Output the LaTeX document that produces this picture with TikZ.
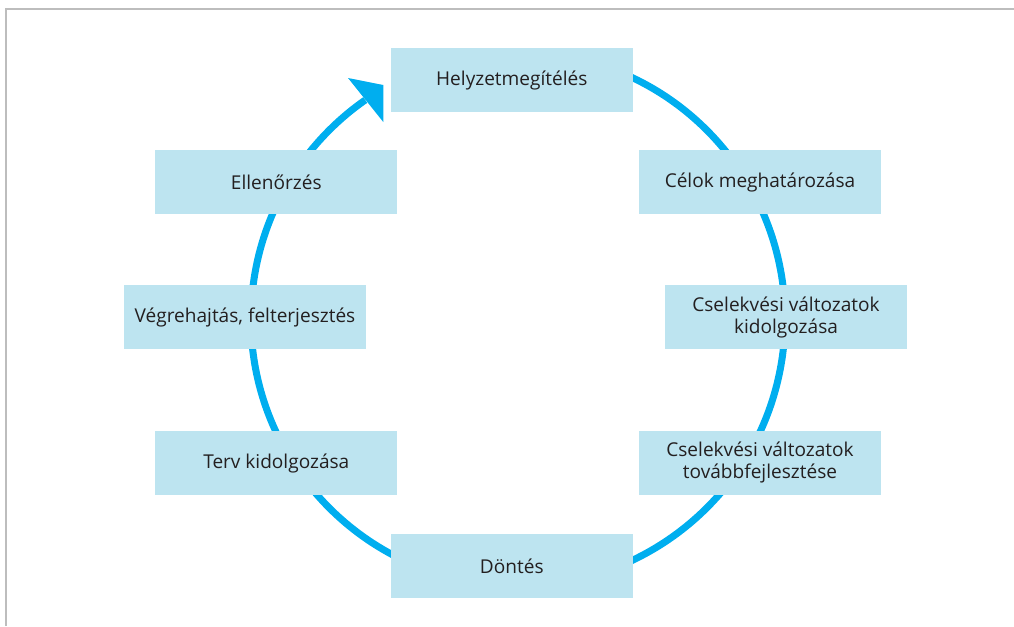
\documentclass[tikz,border=0pt]{standalone}
\usepackage{fontspec}
\setmainfont{Open Sans}
\usetikzlibrary{calc}
\definecolor{boxfill}{HTML}{BDE4F0}
\definecolor{cyclecyan}{HTML}{00AEEF}
\definecolor{txt}{HTML}{231F20}
\definecolor{framegray}{HTML}{BDBDBD}
\begin{document}
\begin{tikzpicture}[x=0.75pt,y=-0.75pt,
  stepbox/.style={rectangle, fill=boxfill, minimum width=181.5pt, minimum height=48pt,
    inner sep=0pt, align=center, text=txt, font=\fontsize{14.3}{16.5}\selectfont},
  cycleline/.style={draw=cyclecyan, line width=5.25pt}]
\useasboundingbox (0,0) rectangle (1014,626);
% page frame (top and left edges)
\coordinate (fbl) at (6,626);
\coordinate (ftl) at (6,9);
\coordinate (ftr) at (1014,9);
\draw[framegray, line width=1pt] (fbl) -- (ftl) -- (ftr);

% the cycle: a circle running clockwise, ending in an arrow head
\coordinate (o) at (518,319);
\draw[cycleline] ([shift={(-80:267)}]o) arc[start angle=-80, end angle=235.1, radius=267];
\coordinate (wingA) at (348,78);
\coordinate (wingB) at (383.3,85);
\coordinate (wingC) at (383.3,122);
\fill[cyclecyan] (wingA) -- (wingB) -- (wingC) -- cycle;

% the steps
\node[stepbox] (h)  at (511.8,80)    {Helyzetmegítélés};
\node[stepbox] (c)  at (760,182.3)   {Célok meghatározása};
\node[stepbox] (k)  at (786,317)     {Cselekvési változatok\\kidolgozása};
\node[stepbox] (t)  at (760,462.7)   {Cselekvési változatok\\továbbfejlesztése};
\node[stepbox] (d)  at (511.8,566.3) {Döntés};
\node[stepbox] (tk) at (276.3,463)   {Terv kidolgozása};
\node[stepbox] (v)  at (245,317.3)   {Végrehajtás, felterjesztés};
\node[stepbox] (e)  at (276.3,182.3) {Ellenőrzés};
\end{tikzpicture}
\end{document}
